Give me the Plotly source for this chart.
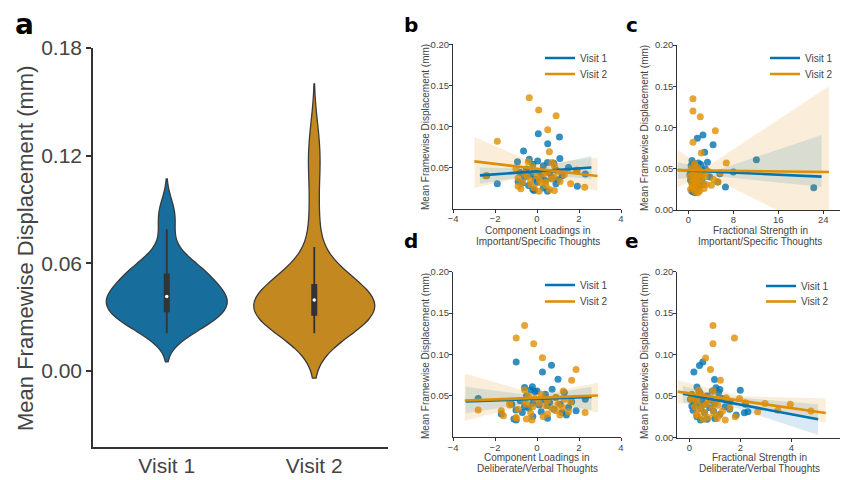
import numpy as np
import plotly.graph_objects as go

BLUE = '#0173B2'
ORANGE = '#DE8F05'
BLUE_V = '#176d9c'
ORANGE_V = '#c38820'
DARK = '#333333'
TXT = '#444444'
FONT = 'Liberation Sans'

# ---------------- data ----------------
visits = ['Visit 1', 'Visit 2']

visit1_fd = [0.091, 0.087, 0.079, 0.070, 0.061, 0.060, 0.058, 0.057, 0.056, 0.055,
             0.054, 0.052, 0.050, 0.048, 0.047, 0.046, 0.045, 0.044, 0.043, 0.042,
             0.041, 0.040, 0.040, 0.039, 0.038, 0.037, 0.036, 0.035, 0.034, 0.033,
             0.032, 0.031, 0.030, 0.030, 0.028, 0.027, 0.025, 0.023, 0.022, 0.021]
visit2_fd = [0.135, 0.120, 0.113, 0.096, 0.082, 0.069, 0.057, 0.056, 0.052, 0.050,
             0.048, 0.047, 0.046, 0.045, 0.044, 0.043, 0.042, 0.041, 0.040, 0.040,
             0.039, 0.038, 0.037, 0.036, 0.035, 0.034, 0.033, 0.032, 0.032, 0.031,
             0.030, 0.029, 0.028, 0.027, 0.026, 0.025, 0.024, 0.023, 0.022, 0.021]

# b: component loadings, important/specific thoughts
b_x_v1 = [0.06, 1.07, 0.51, -0.64, 1.09, -0.37, 0.03, -0.93, 0.5, 0.8,
          -0.2, 0.3, 1.5, -0.5, 0.9, 1.9, 0.1, -0.8, 0.6, 2.3,
          -0.3, -2.4, 1.2, 0.2, -0.6, 0.7, -0.1, 1.0, 0.4, -0.9,
          0.0, -0.7, -1.89, 0.9, -0.4, 1.92, 0.3, -0.2, -0.13, 0.5]
b_x_v2 = [-0.37, 0.08, 0.91, 0.51, -1.89, 0.59, -0.42, 0.72, 0.83, -0.2,
          -1.0, 1.9, -0.13, 1.0, 0.5, -0.6, 0.32, 1.3, -2.45, 0.0,
          -0.48, 0.8, -0.9, 0.67, 0.11, -0.3, 1.1, 0.4, -0.7, 0.2,
          1.6, -0.29, 0.43, -0.9, 2.27, -0.13, -0.77, 0.6, 0.83, 0.1]
# c: fractional strength, important/specific thoughts
c_x_v1 = [2.6, 1.6, 4.4, 2.9, 12.1, 0.65, 3.4, 1.8, 1.0, 2.2,
          0.5, 1.4, 3.0, 2.5, 0.8, 8.0, 1.2, 5.6, 0.3, 2.0,
          1.5, 0.6, 3.8, 1.1, 0.9, 2.4, 0.4, 1.7, 5.2, 1.3,
          0.7, 2.7, 1.9, 1.0, 6.6, 22.3, 1.5, 0.6, 0.83, 1.2]
c_x_v2 = [0.83, 0.83, 2.13, 4.8, 0.83, 2.3, 6.75, 1.1, 1.5, 0.5,
          2.0, 3.5, 1.2, 5.7, 0.8, 2.5, 1.8, 0.3, 3.0, 1.4,
          0.9, 2.2, 4.5, 1.0, 1.6, 5.3, 0.6, 2.4, 1.3, 3.2,
          4.1, 0.7, 1.9, 1.1, 2.8, 0.4, 1.5, 2.0, 1.2, 1.7]
# d: component loadings, deliberate/verbal thoughts
d_x_v1 = [-0.99, 0.69, 0.26, 1.0, -0.22, -0.59, 0.72, -0.3, 0.0, -0.1,
          1.3, 0.4, -0.5, 0.9, -2.8, 2.3, 0.3, -0.8, 1.65, 0.6,
          -0.2, 1.1, -1.2, 0.1, 0.5, -0.6, 1.5, -0.4, 0.8, -1.0,
          1.86, 0.2, -0.7, 1.2, -1.7, 1.4, -0.2, 0.5, -1.1, -0.99]
d_x_v2 = [-0.59, -0.99, -0.16, 0.26, 1.86, 1.65, -0.59, 1.25, 0.2, -0.4,
          0.9, -0.1, 1.3, -0.6, 0.5, 1.6, -1.3, 0.1, -0.5, 1.0,
          -1.3, 0.4, -0.2, 1.2, 0.7, -0.9, -2.8, -1.7, 0.9, 1.5,
          2.29, -0.3, 0.5, 1.09, -1.6, 0.29, -0.99, -1.0, -0.5, -0.24]
# e: fractional strength, deliberate/verbal thoughts
e_x_v1 = [0.53, 0.40, 0.18, 0.99, 0.3, 1.05, 1.2, 2.0, 0.9, 0.4,
          1.15, 0.1, 0.7, 0.25, 1.3, 0.05, 0.85, 0.5, 1.6, 0.2,
          1.0, 0.6, 2.2, 0.35, 0.1, 1.4, 0.8, 0.45, 1.58, 0.15,
          0.95, 2.3, 2.16, 0.6, 1.2, 1.84, 0.3, 1.0, 0.7, 0.44]
e_x_v2 = [0.93, 1.77, 0.93, 0.64, 0.83, 1.22, 0.36, 0.93, 0.47, 0.1,
          1.45, 1.97, 0.08, 0.75, 0.3, 1.0, 2.2, 2.97, 3.96, 0.66,
          1.12, 0.5, 0.2, 1.6, 0.9, 0.4, 3.47, 4.77, 1.3, 2.68,
          0.6, 0.96, 0.27, 1.19, 0.35, 1.8, 0.73, 1.1, 0.55, 1.41]

# regression fits: line end points and CI band
b_fit_x_v1 = [-2.72, 2.59];  b_fit_y_v1 = [0.0404, 0.0500]
b_fit_x_v2 = [-2.98, 2.88];  b_fit_y_v2 = [0.0574, 0.0396]
b_ci_x_v1 = [-2.72, 0.0, 2.59]; b_ci_lo_v1 = [0.030, 0.041, 0.036]; b_ci_hi_v1 = [0.050, 0.049, 0.064]
b_ci_x_v2 = [-2.98, 0.0, 2.88]; b_ci_lo_v2 = [0.025, 0.042, 0.021]; b_ci_hi_v2 = [0.087, 0.054, 0.062]

c_fit_x_v1 = [-1.9, 23.7];   c_fit_y_v1 = [0.0484, 0.0404]
c_fit_x_v2 = [-2.0, 25.0];   c_fit_y_v2 = [0.0484, 0.0460]
c_ci_x_v1 = [-1.9, 5.0, 23.7]; c_ci_lo_v1 = [0.038, 0.041, 0.028]; c_ci_hi_v1 = [0.058, 0.048, 0.091]
c_ci_x_v2 = [-2.0, 3.0, 25.0]; c_ci_lo_v2 = [0.027, 0.043, -0.031]; c_ci_hi_v2 = [0.073, 0.051, 0.150]

d_fit_x_v1 = [-3.4, 2.6];    d_fit_y_v1 = [0.0432, 0.0488]
d_fit_x_v2 = [-3.44, 2.9];   d_fit_y_v2 = [0.0444, 0.0504]
d_ci_x_v1 = [-3.4, 0.0, 2.6]; d_ci_lo_v1 = [0.029, 0.042, 0.033]; d_ci_hi_v1 = [0.061, 0.050, 0.061]
d_ci_x_v2 = [-3.44, 0.0, 2.9]; d_ci_lo_v2 = [0.020, 0.042, 0.030]; d_ci_hi_v2 = [0.077, 0.052, 0.066]

e_fit_x_v1 = [-0.25, 5.05];  e_fit_y_v1 = [0.0528, 0.0219]
e_fit_x_v2 = [-0.46, 5.35];  e_fit_y_v2 = [0.0553, 0.0295]
e_ci_x_v1 = [-0.25, 1.3, 5.05]; e_ci_lo_v1 = [0.042, 0.041, 0.003]; e_ci_hi_v1 = [0.062, 0.050, 0.040]
e_ci_x_v2 = [-0.46, 2.0, 5.35]; e_ci_lo_v2 = [0.041, 0.039, 0.018]; e_ci_hi_v2 = [0.069, 0.050, 0.047]

# ---------------- figure ----------------
fig = go.Figure()

# panel a: violins
for cat, vals, fc, bw in [(visits[0], visit1_fd, BLUE_V, 0.008), (visits[1], visit2_fd, ORANGE_V, 0.0125)]:
    fig.add_trace(go.Violin(x=[cat] * len(vals), y=vals, fillcolor=fc, opacity=1,
                            line=dict(color='#3a3a3a', width=1.3), points=False,
                            box_visible=False, meanline_visible=False, width=0.82,
                            bandwidth=bw, spanmode='soft', scalemode='width',
                            showlegend=False, hoverinfo='skip', xaxis='x', yaxis='y'))
    v = np.asarray(vals)
    q1, med, q3 = np.percentile(v, [25, 50, 75])
    iqr = q3 - q1
    lo = v[v >= q1 - 1.5 * iqr].min()
    hi = v[v <= q3 + 1.5 * iqr].max()
    fig.add_trace(go.Scatter(x=[cat, cat], y=[lo, hi], mode='lines',
                             line=dict(color='#333333', width=1.8), showlegend=False,
                             hoverinfo='skip', xaxis='x', yaxis='y'))
    fig.add_trace(go.Scatter(x=[cat, cat], y=[q1, q3], mode='lines',
                             line=dict(color='#333333', width=6), showlegend=False,
                             hoverinfo='skip', xaxis='x', yaxis='y'))
    fig.add_trace(go.Scatter(x=[cat], y=[med], mode='markers',
                             marker=dict(color='white', size=3.5), showlegend=False,
                             hoverinfo='skip', xaxis='x', yaxis='y'))


def band(x, lo, hi, color, ax, ay):
    xs = list(x) + list(x)[::-1]
    ys = list(hi) + list(lo)[::-1]
    return go.Scatter(x=xs, y=ys, fill='toself', fillcolor=color, mode='lines',
                      line=dict(width=0), showlegend=False, hoverinfo='skip',
                      xaxis=ax, yaxis=ay)


panels = [
    ('x2', 'y2', ('legend', 'legend2'), b_x_v1, b_x_v2, b_fit_x_v1, b_fit_y_v1, b_fit_x_v2, b_fit_y_v2,
     b_ci_x_v1, b_ci_lo_v1, b_ci_hi_v1, b_ci_x_v2, b_ci_lo_v2, b_ci_hi_v2),
    ('x3', 'y3', ('legend3', 'legend4'), c_x_v1, c_x_v2, c_fit_x_v1, c_fit_y_v1, c_fit_x_v2, c_fit_y_v2,
     c_ci_x_v1, c_ci_lo_v1, c_ci_hi_v1, c_ci_x_v2, c_ci_lo_v2, c_ci_hi_v2),
    ('x4', 'y4', ('legend5', 'legend6'), d_x_v1, d_x_v2, d_fit_x_v1, d_fit_y_v1, d_fit_x_v2, d_fit_y_v2,
     d_ci_x_v1, d_ci_lo_v1, d_ci_hi_v1, d_ci_x_v2, d_ci_lo_v2, d_ci_hi_v2),
    ('x5', 'y5', ('legend7', 'legend8'), e_x_v1, e_x_v2, e_fit_x_v1, e_fit_y_v1, e_fit_x_v2, e_fit_y_v2,
     e_ci_x_v1, e_ci_lo_v1, e_ci_hi_v1, e_ci_x_v2, e_ci_lo_v2, e_ci_hi_v2),
]

for (ax, ay, lg, x1, x2, fx1, fy1, fx2, fy2, cx1, clo1, chi1, cx2, clo2, chi2) in panels:
    fig.add_trace(go.Scatter(x=x1, y=visit1_fd, mode='markers',
                             marker=dict(color=BLUE, size=7, opacity=0.8),
                             showlegend=False, hoverinfo='skip', xaxis=ax, yaxis=ay))
    fig.add_trace(band(cx1, clo1, chi1, 'rgba(1,115,178,0.15)', ax, ay))
    fig.add_trace(go.Scatter(x=x2, y=visit2_fd, mode='markers',
                             marker=dict(color=ORANGE, size=7, opacity=0.8),
                             showlegend=False, hoverinfo='skip', xaxis=ax, yaxis=ay))
    fig.add_trace(band(cx2, clo2, chi2, 'rgba(222,143,5,0.15)', ax, ay))
    fig.add_trace(go.Scatter(x=fx1, y=fy1, mode='lines', name='Visit 1',
                             line=dict(color=BLUE, width=2.6), legend=lg[0],
                             hoverinfo='skip', xaxis=ax, yaxis=ay))
    fig.add_trace(go.Scatter(x=fx2, y=fy2, mode='lines', name='Visit 2',
                             line=dict(color=ORANGE, width=2.6), legend=lg[1],
                             hoverinfo='skip', xaxis=ax, yaxis=ay))

# the page places the plot 8 px from the window's top-left corner
OFF = 8
W, H = 848 - OFF, 480 - OFF


def px_x(p):
    return (p - OFF) / W


def px_y(p):
    return 1 - (p - OFF) / H


small_axis = dict(showline=True, linecolor=DARK, linewidth=1, ticks='outside', ticklen=3,
                  tickwidth=1, tickcolor=DARK, showgrid=False, zeroline=False,
                  automargin=False, ticklabelstandoff=-2,
                  tickfont=dict(family=FONT, size=9.5, color=TXT))

layout = dict(
    width=W, height=H, margin=dict(l=0, r=0, t=0, b=0, autoexpand=False),
    paper_bgcolor='white', plot_bgcolor='white', violinmode='overlay',
    font=dict(family=FONT, color=DARK),
    xaxis=dict(domain=[px_x(93), px_x(388)], anchor='y', type='category',
               categoryorder='array', categoryarray=visits, range=[-0.5, 1.5],
               showline=True, linecolor=DARK, linewidth=1.5, ticks='', showgrid=False,
               zeroline=False, ticklabelstandoff=-1, automargin=False,
               tickfont=dict(family=FONT, size=21, color=TXT)),
    yaxis=dict(domain=[px_y(447.3), px_y(48)], anchor='x', range=[-0.0426, 0.18],
               tickvals=[0, 0.06, 0.12, 0.18], tickformat='.2f', automargin=False,
               showline=True, linecolor=DARK, linewidth=1.5, ticks='outside', ticklen=5,
               tickwidth=1.5, tickcolor=DARK, showgrid=False, zeroline=False,
               tickfont=dict(family=FONT, size=21, color=TXT)),
    xaxis2=dict(domain=[px_x(453), px_x(621)], anchor='y2', range=[-4, 4],
                tickvals=[-4, -2, 0, 2, 4], **small_axis),
    yaxis2=dict(domain=[px_y(208.5), px_y(44.3)], anchor='x2', range=[0, 0.2],
                tickvals=[0.05, 0.10, 0.15, 0.20], tickformat='.2f', **small_axis),
    xaxis3=dict(domain=[px_x(677.3), px_x(842.7)], anchor='y3', range=[-1.96, 27.45],
                tickvals=[0, 8, 16, 24], **small_axis),
    yaxis3=dict(domain=[px_y(210), px_y(45)], anchor='x3', range=[0, 0.2],
                tickvals=[0, 0.05, 0.10, 0.15, 0.20], tickformat='.2f', **small_axis),
    xaxis4=dict(domain=[px_x(453), px_x(621)], anchor='y4', range=[-4, 4],
                tickvals=[-4, -2, 0, 2, 4], **small_axis),
    yaxis4=dict(domain=[px_y(437.3), px_y(271.7)], anchor='x4', range=[0, 0.2],
                tickvals=[0.05, 0.10, 0.15, 0.20], tickformat='.2f', **small_axis),
    xaxis5=dict(domain=[px_x(677.3), px_x(842.3)], anchor='y5', range=[-0.47, 6.0],
                tickvals=[0, 2, 4, 6], **small_axis),
    yaxis5=dict(domain=[px_y(437.5), px_y(271.7)], anchor='x5', range=[0, 0.2],
                tickvals=[0, 0.05, 0.10, 0.15, 0.20], tickformat='.2f', **small_axis),
)

leg_common = dict(bgcolor='rgba(0,0,0,0)', borderwidth=0, xanchor='left', yanchor='middle',
                  font=dict(family=FONT, size=10, color=TXT), itemwidth=30,
                  tracegroupgap=0)
# one legend per entry: (name, line start px, row centre px)
legend_pos = [('legend', 547, 58), ('legend2', 547, 74),
              ('legend3', 772, 58), ('legend4', 772, 74),
              ('legend5', 547, 285), ('legend6', 547, 301.5),
              ('legend7', 768, 286), ('legend8', 768, 301.5)]
for name, lx, ly in legend_pos:
    layout[name] = dict(x=px_x(lx - 7), y=px_y(ly), **leg_common)

fig.update_layout(**layout)

ann = []


def add_text(text, x, y, size, angle=0, family=FONT, color=TXT):
    ann.append(dict(text=text, x=px_x(x), y=px_y(y), xref='paper', yref='paper',
                    showarrow=False, textangle=angle, xanchor='center', yanchor='middle',
                    font=dict(family=family, size=size, color=color)))


ytitle = 'Mean Framewise Displacement (mm)'
add_text(ytitle, 25, 248, 22, -90)
add_text(ytitle, 425, 127, 10, -90)
add_text(ytitle, 644, 128, 10, -90)
add_text(ytitle, 425, 356, 10, -90)
add_text(ytitle, 644, 356, 10, -90)

add_text('Component Loadings in', 538, 230, 10)
add_text('Important/Specific Thoughts', 538, 241.7, 10)
add_text('Fractional Strength in', 760, 230, 10)
add_text('Important/Specific Thoughts', 760, 241.7, 10)
add_text('Component Loadings in', 537, 457.3, 10)
add_text('Deliberate/Verbal Thoughts', 537, 468.5, 10)
add_text('Fractional Strength in', 759, 457.3, 10)
add_text('Deliberate/Verbal Thoughts', 759, 468.5, 10)

add_text('<b>a</b>', 24, 24, 28, family='DejaVu Sans', color='black')
add_text('<b>b</b>', 411, 25, 20, family='DejaVu Sans', color='black')
add_text('<b>c</b>', 632, 25, 20, family='DejaVu Sans', color='black')
add_text('<b>d</b>', 411, 241, 20, family='DejaVu Sans', color='black')
add_text('<b>e</b>', 632, 241, 20, family='DejaVu Sans', color='black')

fig.update_layout(annotations=ann)

fig.write_html('out.html')
